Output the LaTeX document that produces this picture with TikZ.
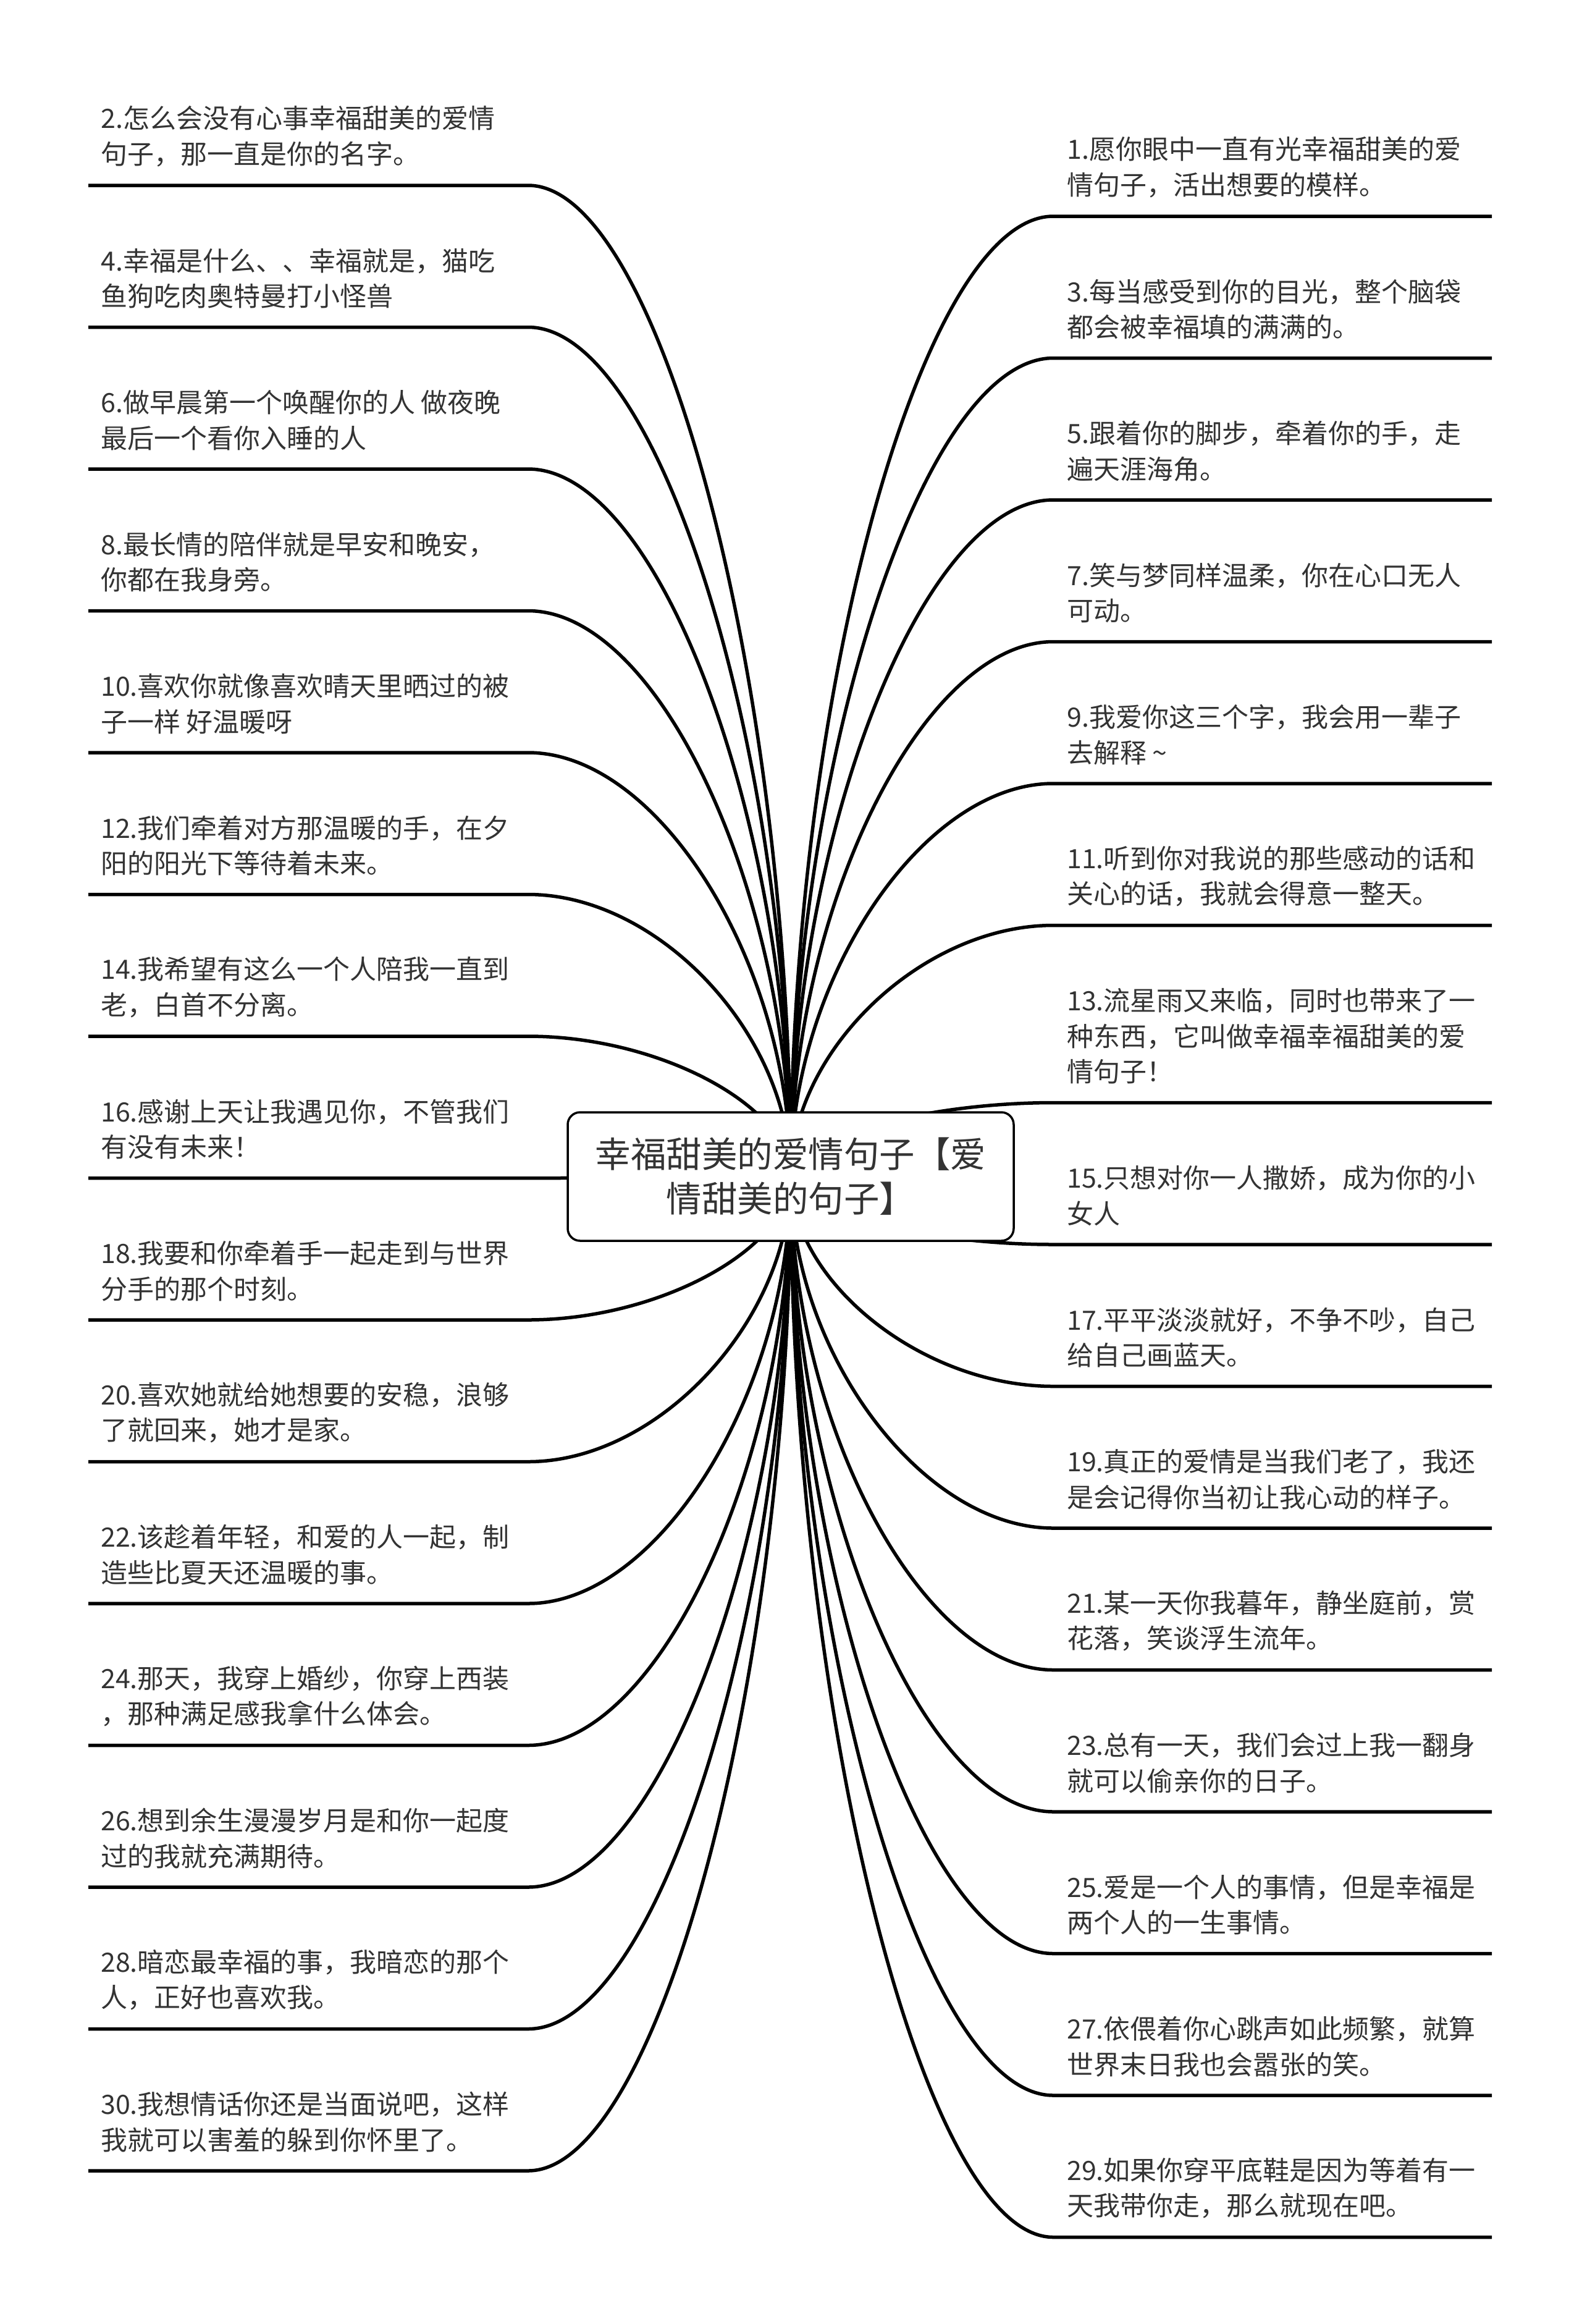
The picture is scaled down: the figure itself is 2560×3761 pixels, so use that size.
\documentclass[tikz,border=0pt]{standalone}
\usepackage{fontspec}
\usetikzlibrary{calc}
\newfontfamily\cjk{Noto Sans CJK SC}
\definecolor{txt}{HTML}{333333}
\pgfdeclarelayer{bg}
\pgfsetlayers{bg,main}
\tikzset{
  leaftext/.style={anchor=south west, inner sep=0pt, align=left, text=txt,
    font=\cjk\fontsize{43}{57.5}\selectfont},
  conn/.style={draw=black, line width=5.5pt, line join=round, line cap=butt},
  rootbox/.style={draw=black, fill=white, rounded corners=20pt, line width=3.5pt,
    minimum width=722pt, minimum height=208pt, align=center, text=txt,
    font=\cjk\fontsize{57.5}{72}\selectfont}
}
\newcommand\leafL[3]{%
  \coordinate (#1) at (855,#2);
  \coordinate (#1o) at (143,#2);
  \node[leaftext] (#1t) at (163,#2-30) {#3};
  \begin{pgfonlayer}{bg}
    \draw[conn] (root.center) .. controls ($(root.center)!0.5!(root.center|-#1)$) and ($(#1)!0.5!(#1-|root.center)$) .. (#1) -- (#1o);
  \end{pgfonlayer}}
\newcommand\leafR[3]{%
  \coordinate (#1) at (1705,#2);
  \coordinate (#1o) at (2415,#2);
  \node[leaftext] (#1t) at (1727,#2-30) {#3};
  \begin{pgfonlayer}{bg}
    \draw[conn] (root.center) .. controls ($(root.center)!0.5!(root.center|-#1)$) and ($(#1)!0.5!(#1-|root.center)$) .. (#1) -- (#1o);
  \end{pgfonlayer}}
\begin{document}
\begin{tikzpicture}[x=1pt,y=-1pt]
\begin{pgfonlayer}{bg}
\fill[white] (0,0) rectangle (2560,3761);
\end{pgfonlayer}
\useasboundingbox (0,0) rectangle (2560,3761);
\node[rootbox] (root) at (1280,1904) {幸福甜美的爱情句子【爱\\情甜美的句子】};

\leafL{l2}{300}{2.怎么会没有心事幸福甜美的爱情\\句子，那一直是你的名字。}
\leafL{l4}{529.5}{4.幸福是什么、、幸福就是，猫吃\\鱼狗吃肉奥特曼打小怪兽}
\leafL{l6}{759}{6.做早晨第一个唤醒你的人 做夜晚\\最后一个看你入睡的人}
\leafL{l8}{988.5}{8.最长情的陪伴就是早安和晚安，\\你都在我身旁。}
\leafL{l10}{1218}{10.喜欢你就像喜欢晴天里晒过的被\\子一样 好温暖呀}
\leafL{l12}{1447.5}{12.我们牵着对方那温暖的手，在夕\\阳的阳光下等待着未来。}
\leafL{l14}{1677}{14.我希望有这么一个人陪我一直到\\老，白首不分离。}
\leafL{l16}{1906.5}{16.感谢上天让我遇见你，不管我们\\有没有未来！}
\leafL{l18}{2136}{18.我要和你牵着手一起走到与世界\\分手的那个时刻。}
\leafL{l20}{2365.5}{20.喜欢她就给她想要的安稳，浪够\\了就回来，她才是家。}
\leafL{l22}{2595}{22.该趁着年轻，和爱的人一起，制\\造些比夏天还温暖的事。}
\leafL{l24}{2824.5}{24.那天，我穿上婚纱，你穿上西装\\，那种满足感我拿什么体会。}
\leafL{l26}{3054}{26.想到余生漫漫岁月是和你一起度\\过的我就充满期待。}
\leafL{l28}{3283.5}{28.暗恋最幸福的事，我暗恋的那个\\人，正好也喜欢我。}
\leafL{l30}{3513}{30.我想情话你还是当面说吧，这样\\我就可以害羞的躲到你怀里了。}

\leafR{r1}{350}{1.愿你眼中一直有光幸福甜美的爱\\情句子，活出想要的模样。}
\leafR{r3}{579.5}{3.每当感受到你的目光，整个脑袋\\都会被幸福填的满满的。}
\leafR{r5}{809}{5.跟着你的脚步，牵着你的手，走\\遍天涯海角。}
\leafR{r7}{1038.5}{7.笑与梦同样温柔，你在心口无人\\可动。}
\leafR{r9}{1268}{9.我爱你这三个字，我会用一辈子\\去解释 \textasciitilde}
\leafR{r11}{1497.5}{11.听到你对我说的那些感动的话和\\关心的话，我就会得意一整天。}
\leafR{r13}{1784.5}{13.流星雨又来临，同时也带来了一\\种东西，它叫做幸福幸福甜美的爱\\情句子！}
\leafR{r15}{2014}{15.只想对你一人撒娇，成为你的小\\女人}
\leafR{r17}{2243.5}{17.平平淡淡就好，不争不吵，自己\\给自己画蓝天。}
\leafR{r19}{2473}{19.真正的爱情是当我们老了，我还\\是会记得你当初让我心动的样子。}
\leafR{r21}{2702.5}{21.某一天你我暮年，静坐庭前，赏\\花落，笑谈浮生流年。}
\leafR{r23}{2932}{23.总有一天，我们会过上我一翻身\\就可以偷亲你的日子。}
\leafR{r25}{3161.5}{25.爱是一个人的事情，但是幸福是\\两个人的一生事情。}
\leafR{r27}{3391}{27.依偎着你心跳声如此频繁，就算\\世界末日我也会嚣张的笑。}
\leafR{r29}{3620.5}{29.如果你穿平底鞋是因为等着有一\\天我带你走，那么就现在吧。}
\end{tikzpicture}
\end{document}
